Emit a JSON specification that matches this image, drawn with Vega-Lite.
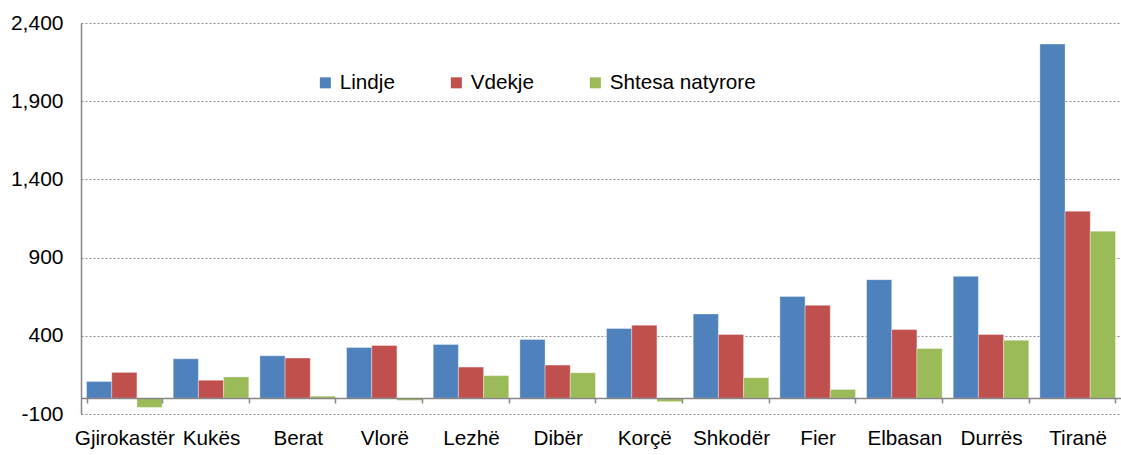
{
  "$schema": "https://vega.github.io/schema/vega-lite/v6.json",
  "width": 1040,
  "height": 391,
  "autosize": {"type": "none"},
  "padding": {"left": 81, "top": 23, "right": 0, "bottom": 41},
  "background": "white",
  "config": {
    "view": {"stroke": null},
    "font": "Liberation Sans",
    "axis": {"labelFont": "Liberation Sans", "labelColor": "black"},
    "legend": {"labelFont": "Liberation Sans"}
  },
  "data": {
    "values": [
      {"Qarku": "Gjirokastër", "Tregues": "Lindje", "Vlera": 108},
      {"Qarku": "Gjirokastër", "Tregues": "Vdekje", "Vlera": 166},
      {"Qarku": "Gjirokastër", "Tregues": "Shtesa natyrore", "Vlera": -58},
      {"Qarku": "Kukës", "Tregues": "Lindje", "Vlera": 253},
      {"Qarku": "Kukës", "Tregues": "Vdekje", "Vlera": 116},
      {"Qarku": "Kukës", "Tregues": "Shtesa natyrore", "Vlera": 137},
      {"Qarku": "Berat", "Tregues": "Lindje", "Vlera": 272},
      {"Qarku": "Berat", "Tregues": "Vdekje", "Vlera": 258},
      {"Qarku": "Berat", "Tregues": "Shtesa natyrore", "Vlera": 14},
      {"Qarku": "Vlorë", "Tregues": "Lindje", "Vlera": 325},
      {"Qarku": "Vlorë", "Tregues": "Vdekje", "Vlera": 338},
      {"Qarku": "Vlorë", "Tregues": "Shtesa natyrore", "Vlera": -13},
      {"Qarku": "Lezhë", "Tregues": "Lindje", "Vlera": 345},
      {"Qarku": "Lezhë", "Tregues": "Vdekje", "Vlera": 200},
      {"Qarku": "Lezhë", "Tregues": "Shtesa natyrore", "Vlera": 145},
      {"Qarku": "Dibër", "Tregues": "Lindje", "Vlera": 377},
      {"Qarku": "Dibër", "Tregues": "Vdekje", "Vlera": 213},
      {"Qarku": "Dibër", "Tregues": "Shtesa natyrore", "Vlera": 164},
      {"Qarku": "Korçë", "Tregues": "Lindje", "Vlera": 447},
      {"Qarku": "Korçë", "Tregues": "Vdekje", "Vlera": 468},
      {"Qarku": "Korçë", "Tregues": "Shtesa natyrore", "Vlera": -21},
      {"Qarku": "Shkodër", "Tregues": "Lindje", "Vlera": 540},
      {"Qarku": "Shkodër", "Tregues": "Vdekje", "Vlera": 408},
      {"Qarku": "Shkodër", "Tregues": "Shtesa natyrore", "Vlera": 132},
      {"Qarku": "Fier", "Tregues": "Lindje", "Vlera": 652},
      {"Qarku": "Fier", "Tregues": "Vdekje", "Vlera": 595},
      {"Qarku": "Fier", "Tregues": "Shtesa natyrore", "Vlera": 57},
      {"Qarku": "Elbasan", "Tregues": "Lindje", "Vlera": 759},
      {"Qarku": "Elbasan", "Tregues": "Vdekje", "Vlera": 440},
      {"Qarku": "Elbasan", "Tregues": "Shtesa natyrore", "Vlera": 319},
      {"Qarku": "Durrës", "Tregues": "Lindje", "Vlera": 780},
      {"Qarku": "Durrës", "Tregues": "Vdekje", "Vlera": 408},
      {"Qarku": "Durrës", "Tregues": "Shtesa natyrore", "Vlera": 372},
      {"Qarku": "Tiranë", "Tregues": "Lindje", "Vlera": 2266},
      {"Qarku": "Tiranë", "Tregues": "Vdekje", "Vlera": 1197},
      {"Qarku": "Tiranë", "Tregues": "Shtesa natyrore", "Vlera": 1069}
    ]
  },
  "mark": {"type": "bar", "stroke": "white", "strokeWidth": 0.6, "strokeOpacity": 0.6},
  "encoding": {
    "x": {
      "field": "Qarku",
      "type": "nominal",
      "sort": ["Gjirokastër", "Kukës", "Berat", "Vlorë", "Lezhë", "Dibër", "Korçë", "Shkodër", "Fier", "Elbasan", "Durrës", "Tiranë"],
      "scale": {"paddingInner": 0.128, "paddingOuter": 0.064},
      "axis": {
        "title": null,
        "labelAngle": 0,
        "labelFontSize": 20.7,
        "labelPadding": 25,
        "labelOverlap": false,
        "offset": -16,
        "domainColor": "#868686",
        "domainWidth": 1.5,
        "tickColor": "#868686",
        "tickWidth": 1.5,
        "tickSize": 5,
        "tickBand": "extent",
        "zindex": 1
      }
    },
    "xOffset": {
      "field": "Tregues",
      "type": "nominal",
      "sort": ["Lindje", "Vdekje", "Shtesa natyrore"]
    },
    "y": {
      "field": "Vlera",
      "type": "quantitative",
      "scale": {"domain": [-100, 2400], "nice": false, "zero": false},
      "axis": {
        "title": null,
        "values": [-100, 400, 900, 1400, 1900, 2400],
        "labelExpr": "datum.value < 0 ? '-' + format(-datum.value, ',') : format(datum.value, ',')",
        "labelFontSize": 21,
        "labelPadding": 18,
        "ticks": false,
        "domainColor": "#868686",
        "domainWidth": 1.5,
        "grid": true,
        "gridColor": "#8c8c8c",
        "gridDash": [2, 2],
        "gridWidth": 1
      }
    },
    "color": {
      "field": "Tregues",
      "type": "nominal",
      "sort": ["Lindje", "Vdekje", "Shtesa natyrore"],
      "scale": {"domain": ["Lindje", "Vdekje", "Shtesa natyrore"], "range": ["#4F81BD", "#C0504D", "#9BBB59"]},
      "legend": {
        "title": null,
        "orient": "none",
        "direction": "horizontal",
        "legendX": 234,
        "legendY": 49,
        "symbolType": "square",
        "symbolSize": 121,
        "symbolStrokeWidth": 0,
        "symbolOpacity": 1,
        "labelFontSize": 20.7,
        "labelColor": "black",
        "labelOffset": 4,
        "columnPadding": 51
      }
    }
  }
}
